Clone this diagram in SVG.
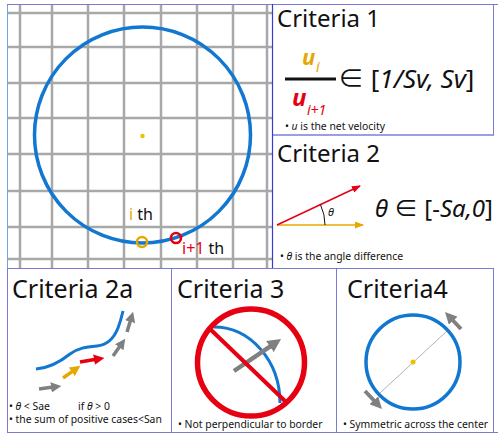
<svg xmlns="http://www.w3.org/2000/svg" width="498" height="437" viewBox="0 0 498 437">
<style>
text{font-family:"Noto Sans","Open Sans","Noto Sans CJK JP",sans-serif;fill:#111}
.title{font-size:24px}
.title2{font-size:25px}
.small{font-size:10.4px}
.it{font-style:italic}
.grid line{stroke:#a8a8a8;stroke-width:2.5}
.border{stroke:#7b7bd6;stroke-width:1;fill:none}
</style>
<defs>
<marker id="hg" viewBox="0 0 10 10" refX="2" refY="5" markerWidth="3" markerHeight="3" orient="auto"><path d="M0,0 L10,5 L0,10 z" fill="#808080"/></marker>
<marker id="hy" viewBox="0 0 10 10" refX="2" refY="5" markerWidth="3" markerHeight="3" orient="auto"><path d="M0,0 L10,5 L0,10 z" fill="#e5a800"/></marker>
<marker id="hr" viewBox="0 0 10 10" refX="2" refY="5" markerWidth="3" markerHeight="3" orient="auto"><path d="M0,0 L10,5 L0,10 z" fill="#e60012"/></marker>
<marker id="ty" markerUnits="userSpaceOnUse" viewBox="0 0 9 7" refX="8" refY="3.5" markerWidth="9" markerHeight="7" orient="auto"><path d="M0,0 L9,3.5 L0,7 z" fill="#e5a800"/></marker>
<marker id="tr" markerUnits="userSpaceOnUse" viewBox="0 0 9 7" refX="8" refY="3.5" markerWidth="9" markerHeight="7" orient="auto"><path d="M0,0 L9,3.5 L0,7 z" fill="#e60012"/></marker>
</defs>

<g id="grid-panel">
<g class="grid">
<line x1="20" y1="4" x2="20" y2="268"/><line x1="52" y1="4" x2="52" y2="268"/><line x1="88" y1="4" x2="88" y2="268"/><line x1="124" y1="4" x2="124" y2="268"/><line x1="161" y1="4" x2="161" y2="268"/><line x1="197" y1="4" x2="197" y2="268"/><line x1="233" y1="4" x2="233" y2="268"/><line x1="267" y1="4" x2="267" y2="268"/>
<line x1="7" y1="13" x2="272" y2="13"/><line x1="7" y1="47" x2="272" y2="47"/><line x1="7" y1="83" x2="272" y2="83"/><line x1="7" y1="118" x2="272" y2="118"/><line x1="7" y1="154" x2="272" y2="154"/><line x1="7" y1="191" x2="272" y2="191"/><line x1="7" y1="227" x2="272" y2="227"/><line x1="7" y1="259" x2="272" y2="259"/>
</g>
<line x1="7.5" y1="4" x2="7.5" y2="268" stroke="#6aa6e0" stroke-width="1"/>
<circle cx="142.5" cy="135" r="108" fill="none" stroke="#1177d1" stroke-width="3.5"/>
<circle cx="142.5" cy="136" r="2.2" fill="#e8c400"/>
<circle cx="142" cy="242" r="5" fill="none" stroke="#e5a800" stroke-width="2.4"/>
<circle cx="176" cy="238" r="5" fill="none" stroke="#e60012" stroke-width="2.6"/>
<text x="129" y="220" font-size="16"><tspan style="fill:#e5a800">i</tspan> th</text>
<text x="182" y="254" font-size="16"><tspan style="fill:#e60012">i+1</tspan> th</text>
</g>

<g id="borders">
<line class="border" x1="7" y1="4.5" x2="498" y2="4.5"/>
<line x1="272.5" y1="4" x2="272.5" y2="268" stroke="#3a3ad0" stroke-width="1.2"/>
<line x1="272" y1="135" x2="494" y2="135" stroke="#3a3ad0" stroke-width="1.2"/>
<line class="border" x1="493.5" y1="4" x2="493.5" y2="135"/>
<line class="border" x1="7" y1="268.5" x2="494" y2="268.5"/>
<line class="border" x1="7.5" y1="268" x2="7.5" y2="432"/>
<line class="border" x1="171.5" y1="268" x2="171.5" y2="432"/>
<line class="border" x1="336.5" y1="268" x2="336.5" y2="432"/>
<line class="border" x1="493.5" y1="268" x2="493.5" y2="432"/>
<line class="border" x1="7" y1="432.5" x2="498" y2="432.5"/>
</g>

<g id="criteria1">
<text class="title" x="277" y="27">Criteria 1</text>
<text x="302" y="65" font-size="22" font-weight="bold" font-style="italic" style="fill:#e5a800">u</text>
<text x="316" y="72" font-size="14" font-style="italic" style="fill:#e5a800">i</text>
<line x1="285" y1="79" x2="336" y2="79" stroke="#111" stroke-width="3"/>
<text x="292" y="106" font-size="24" font-weight="bold" font-style="italic" style="fill:#e60012">u</text>
<text x="307" y="115" font-size="14" font-style="italic" style="fill:#e60012">i+1</text>
<text x="338" y="88" font-size="26">∈ [<tspan class="it">1/Sv, Sv</tspan>]</text>
<text class="small" x="285" y="130">• <tspan class="it">u</tspan> is the net velocity</text>
</g>

<g id="criteria2">
<text class="title" x="277" y="162">Criteria 2</text>
<line x1="277" y1="225" x2="363" y2="225" stroke="#e5a800" stroke-width="1.5" marker-end="url(#ty)"/>
<line x1="277" y1="225" x2="360" y2="186" stroke="#e60012" stroke-width="1.5" marker-end="url(#tr)"/>
<path d="M325,225 A48,48 0 0 0 320.5,204.7" fill="none" stroke="#111" stroke-width="1"/>
<text x="328" y="216" font-size="11" class="it">θ</text>
<text x="375" y="217" font-size="24"><tspan class="it">θ</tspan> ∈ [-<tspan class="it">Sa,0</tspan>]</text>
<text class="small" x="280" y="260">• <tspan class="it">θ</tspan> is the angle difference</text>
</g>

<g id="criteria2a">
<text class="title2" x="12" y="298">Criteria 2a</text>
<path d="M36,369 C50,368 60,362 70,354 C78,348 86,347 97,346 C108,345 114,338 118,328 C121,320 122,315 123,311" fill="none" stroke="#1177d1" stroke-width="3"/>
<line x1="39" y1="389" x2="53.1" y2="387.1" stroke="#808080" stroke-width="3.5" marker-end="url(#hg)"/>
<line x1="63" y1="378" x2="73.5" y2="370.6" stroke="#e5a800" stroke-width="3.5" marker-end="url(#hy)"/>
<line x1="80" y1="362" x2="96.1" y2="359.3" stroke="#e60012" stroke-width="3.5" marker-end="url(#hr)"/>
<line x1="113" y1="356" x2="120.4" y2="345.5" stroke="#808080" stroke-width="3.5" marker-end="url(#hg)"/>
<line x1="127" y1="332" x2="130.7" y2="319.7" stroke="#808080" stroke-width="3.5" marker-end="url(#hg)"/>
<text class="small" x="9" y="410">• <tspan class="it">θ</tspan> &lt; Sae</text>
<text class="small" x="78" y="410">if <tspan class="it">θ</tspan> &gt; 0</text>
<text class="small" x="9" y="423">• the sum of positive cases&lt;San</text>
</g>

<g id="criteria3">
<text class="title2" x="177" y="298">Criteria 3</text>
<path d="M214,327 A66,76 0 0 1 280,403" fill="none" stroke="#1177d1" stroke-width="3"/>
<line x1="234" y1="371" x2="272.1" y2="345.1" stroke="#808080" stroke-width="4.5" marker-end="url(#hg)"/>
<circle cx="251" cy="362.5" r="53.5" fill="none" stroke="#e60012" stroke-width="5.5"/>
<line x1="208" y1="327" x2="286" y2="402" stroke="#e60012" stroke-width="4"/>
<text class="small" x="178" y="428">• Not perpendicular to border</text>
</g>

<g id="criteria4">
<text class="title2" x="347" y="298">Criteria4</text>
<line x1="380" y1="393" x2="447" y2="331" stroke="#a0a0a0" stroke-width="0.8"/>
<circle cx="413" cy="362" r="47" fill="none" stroke="#1177d1" stroke-width="3.5"/>
<circle cx="413" cy="362" r="2.5" fill="#e8c400"/>
<line x1="461" y1="329" x2="451.6" y2="319" stroke="#808080" stroke-width="4" marker-end="url(#hg)"/>
<line x1="365" y1="391" x2="375.4" y2="402" stroke="#808080" stroke-width="4" marker-end="url(#hg)"/>
<text class="small" x="343" y="428">• Symmetric across the center</text>
</g>
</svg>
